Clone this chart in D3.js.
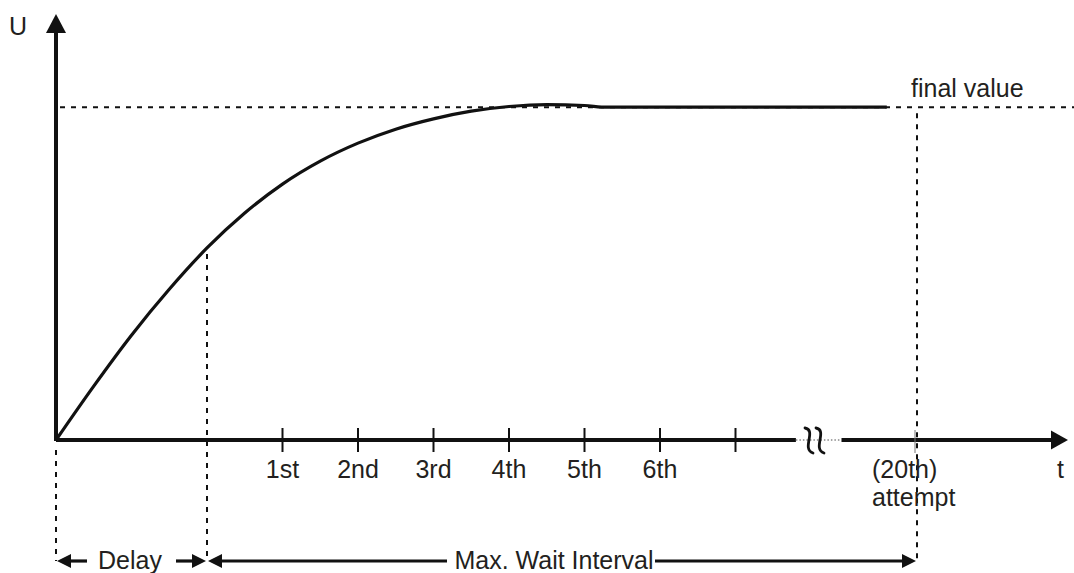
<!DOCTYPE html>
<html>
<head>
<meta charset="utf-8">
<script src="https://cdn.jsdelivr.net/npm/d3@7/dist/d3.min.js"></script>
<style>
  html, body { margin: 0; padding: 0; background: #fff; }
  svg { display: block; }
  text { font-family: "Liberation Sans", Arial, Helvetica, sans-serif; fill: #231f20; }
</style>
</head>
<body>
<svg id="chart" width="1074" height="573"></svg>
<script>
// Step response of U over time t, sampled in attempt-interval units
const curveT = [0, 0.5, 1, 1.5, 2, 2.5, 3, 3.5, 4, 4.5, 5, 5.5, 6, 6.5, 7, 7.3, 21.6];
const curveU = [0, 0.162, 0.315, 0.453, 0.577, 0.682, 0.769, 0.838, 0.892, 0.934, 0.965, 0.988, 1.002, 1.008, 1.005, 1.0, 1.0];

// Retry attempts along the time axis
const attemptTimes = [3, 4, 5, 6, 7, 8, 9];
const attemptLabels = ["1st", "2nd", "3rd", "4th", "5th", "6th", ""];
const lastAttemptTime = 22;
const lastAttemptLabel = ["(20th)", "attempt"];

// Reference levels and intervals
const finalValue = 1;
const delayEnd = 2;
const axisBreak = [9.8, 21];
const tMax = 24;
const uMax = 1.28;

const svg = d3.select("#chart");
const ink = "#111";
const fontSize = 25;

// Broken time axis: a compressed gap between the last regular slot and the 20th attempt
const x = d3.scaleLinear().domain([0, 10, 21, tMax]).range([56, 811, 841.5, 1068]);
const y = d3.scaleLinear().domain([0, uMax]).range([440, 14]);

const y0 = y(0), x0 = x(0);
const annotY = 561;

// Dotted guide lines
const dotted = svg.append("g")
  .attr("stroke", ink).attr("stroke-width", 2).attr("stroke-dasharray", "5,6").attr("fill", "none");
dotted.append("line").attr("x1", x0 + 4).attr("x2", 1074).attr("y1", y(finalValue)).attr("y2", y(finalValue));
dotted.append("line").attr("x1", x0).attr("x2", x0).attr("y1", y0 + 10).attr("y2", annotY);
dotted.append("line").attr("x1", x(delayEnd)).attr("x2", x(delayEnd))
  .attr("y1", y(curveU[curveT.indexOf(delayEnd)]) + 6).attr("y2", annotY);
dotted.append("line").attr("x1", x(lastAttemptTime)).attr("x2", x(lastAttemptTime))
  .attr("y1", y(finalValue) + 6).attr("y2", annotY);

// Response curve
const line = d3.line().x((d, i) => x(curveT[i])).y(d => y(d)).curve(d3.curveMonotoneX);
svg.append("path")
  .datum(curveU)
  .attr("d", line)
  .attr("fill", "none").attr("stroke", ink).attr("stroke-width", 3.2);

// Vertical U axis with arrow
svg.append("line").attr("x1", x0).attr("x2", x0).attr("y1", y0 + 1).attr("y2", y(uMax) + 14)
  .attr("stroke", ink).attr("stroke-width", 4);
svg.append("path")
  .attr("d", `M${x0},${y(uMax)} L${x0 - 10},${y(uMax) + 19} L${x0 + 10},${y(uMax) + 19} Z`)
  .attr("fill", ink);
svg.append("text").attr("x", 9).attr("y", 35).attr("font-size", fontSize).text("U");

// Horizontal t axis, solid on both sides of the break
svg.append("line").attr("x1", x0).attr("x2", x(axisBreak[0])).attr("y1", y0).attr("y2", y0)
  .attr("stroke", ink).attr("stroke-width", 4);
svg.append("line").attr("x1", x(axisBreak[1])).attr("x2", x(tMax) - 14).attr("y1", y0).attr("y2", y0)
  .attr("stroke", ink).attr("stroke-width", 4);
svg.append("line").attr("x1", x(axisBreak[0])).attr("x2", x(axisBreak[1])).attr("y1", y0).attr("y2", y0)
  .attr("stroke", "#888").attr("stroke-width", 1.5).attr("stroke-dasharray", "1.5,2");
svg.append("path")
  .attr("d", `M${x(tMax)},${y0} L${x(tMax) - 17},${y0 - 9.5} L${x(tMax) - 17},${y0 + 9.5} Z`)
  .attr("fill", ink);

// Break marks: two wavy strokes
const bx = x(10) + 4;
[-6, 5].forEach(dx => {
  const cx = bx + dx;
  svg.append("path")
    .attr("d", `M${cx - 4},${y0 - 12} C${cx + 8},${y0 - 10} ${cx - 8},${y0 + 9} ${cx + 4},${y0 + 13}`)
    .attr("fill", "none").attr("stroke", ink).attr("stroke-width", 2.8).attr("stroke-linecap", "round");
});

// Attempt ticks and labels
attemptTimes.forEach((t, i) => {
  svg.append("line").attr("x1", x(t)).attr("x2", x(t)).attr("y1", y0 - 12).attr("y2", y0 + 12)
    .attr("stroke", ink).attr("stroke-width", 2);
  if (attemptLabels[i]) {
    svg.append("text").attr("x", x(t)).attr("y", 478).attr("text-anchor", "middle")
      .attr("font-size", fontSize).text(attemptLabels[i]);
  }
});
svg.append("line").attr("x1", x(lastAttemptTime) - 2).attr("x2", x(lastAttemptTime) - 2)
  .attr("y1", y0 - 10).attr("y2", y0 + 13).attr("stroke", "#777").attr("stroke-width", 1);
svg.append("text").attr("x", 872).attr("y", 478).attr("font-size", fontSize).text(lastAttemptLabel[0]);
svg.append("text").attr("x", 872).attr("y", 506).attr("font-size", fontSize).text(lastAttemptLabel[1]);
svg.append("text").attr("x", 1057).attr("y", 478).attr("font-size", fontSize).text("t");

svg.append("text").attr("x", 911).attr("y", 97).attr("font-size", fontSize).text("final value");

// Interval annotations along the bottom
function arrowHead(tipX, dir) {
  const len = 14, half = 7;
  svg.append("path")
    .attr("d", `M${tipX},${annotY} L${tipX - dir * len},${annotY - half} L${tipX - dir * len},${annotY + half} Z`)
    .attr("fill", ink);
}
function shaft(xa, xb) {
  svg.append("line").attr("x1", xa).attr("x2", xb).attr("y1", annotY).attr("y2", annotY)
    .attr("stroke", ink).attr("stroke-width", 3.2);
}
// Delay
arrowHead(x0 + 1, -1);
shaft(x0 + 10, x0 + 31);
svg.append("text").attr("x", 130).attr("y", 569).attr("text-anchor", "middle")
  .attr("font-size", fontSize).text("Delay");
shaft(x(delayEnd) - 31, x(delayEnd) - 10);
arrowHead(x(delayEnd) - 1, 1);
// Max. Wait Interval
arrowHead(x(delayEnd) + 1, -1);
shaft(x(delayEnd) + 10, 447);
svg.append("text").attr("x", 554).attr("y", 569).attr("text-anchor", "middle")
  .attr("font-size", fontSize).text("Max. Wait Interval");
shaft(655, x(lastAttemptTime) - 10);
arrowHead(x(lastAttemptTime) - 1, 1);
</script>
</body>
</html>
